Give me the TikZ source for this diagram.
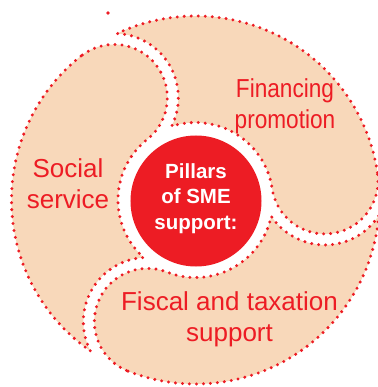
\documentclass[tikz,border=0pt]{standalone}
\usepackage{fontspec}
\setmainfont{Liberation Sans}
\newfontfamily\narrowsans[FakeStretch=0.87]{Liberation Sans}
\usetikzlibrary{calc}
\definecolor{pillarred}{RGB}{237,28,36}
\definecolor{petal}{RGB}{248,216,186}

% geometry of the three petals (bp)
\newcommand\petalRout{184}    % outer circle
\newcommand\petalRin{77.5}    % inner dotted ring
\newcommand\petalLobe{53.25}  % lobe of a petal
\newcommand\petalWide{64.25}  % lobe widened by the white gap

% one petal; #1 = direction of its own lobe
\newcommand\petal[1]{%
  \path[petalarea] ($(C)+(#1:\petalRout)$)
    arc[start angle=#1, end angle=#1+120-13.32, radius=\petalRout]
    arc[start angle=#1+120-41.27, end angle=#1+120-154.93, radius=\petalWide]
    arc[start angle=#1+120-20.57, end angle=#1, radius=\petalRin]
    arc[start angle=#1-180, end angle=#1, radius=\petalLobe]
    -- cycle;}

\begin{document}
\begin{tikzpicture}[x=1bp,y=1bp,
  petalarea/.style={fill=petal, draw=pillarred, line width=3.3bp,
    line cap=round, dash pattern=on 0bp off 7bp},
  pillartext/.style={text=pillarred, align=center, anchor=base, inner sep=0pt},
  bigfont/.style={font=\fontsize{26bp}{31bp}\selectfont},
]
\useasboundingbox (0,0) rectangle (378,387);
\coordinate (C) at (195.5,187);

\petal{8.5}
\petal{128.5}
\petal{248.5}

% stray dot above the ring
\fill[pillarred] (108,374) circle[radius=1.8bp];

% hub; text nodes are placed by the baseline of their last line
\node[circle, fill=pillarred, minimum size=131bp, inner sep=0pt] (hub) at (196,186) {};
\node[text=white, align=center, anchor=base, inner sep=0pt,
      font=\fontsize{20.5bp}{25.5bp}\selectfont\bfseries] (hubtext) at (196,158)
  {Pillars\\of SME\\support:};

\node[pillartext, font=\narrowsans\fontsize{26bp}{31bp}\selectfont] (fin) at (285,258.7)
  {Financing\\promotion};
\node[pillartext, bigfont] (soc) at (68,179) {Social\\service};
\node[pillartext, bigfont] (fis) at (229.5,45.3) {Fiscal and taxation\\support};
\end{tikzpicture}
\end{document}
